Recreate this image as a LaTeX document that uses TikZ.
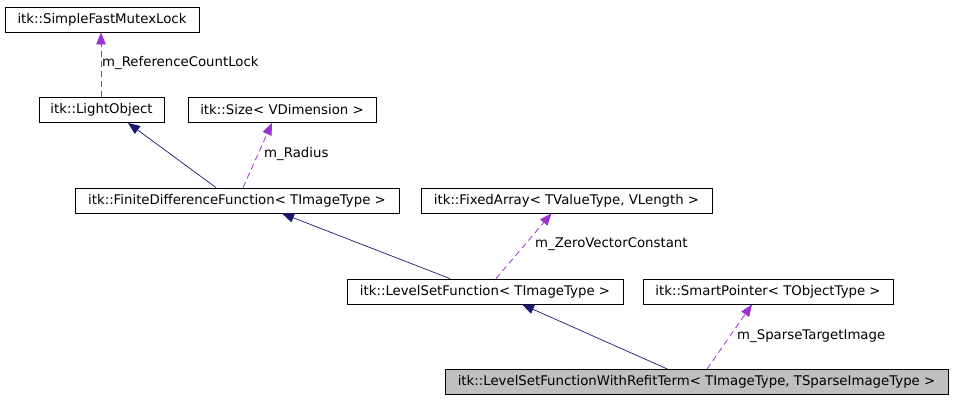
\documentclass[tikz,border=0pt]{standalone}
\usepackage{fontspec}
\setmainfont{DejaVu Sans}
\usetikzlibrary{arrows.meta}

\definecolor{inhcol}{RGB}{25,25,112}
\definecolor{usecol}{RGB}{154,50,205}
\definecolor{focuscol}{RGB}{191,191,191}

\begin{document}
\begin{tikzpicture}[
  x=1pt, y=-1pt,
  cls/.style={rectangle, draw, line width=0.8pt, minimum height=25pt, inner sep=0pt, font=\fontsize{13.3}{15}\selectfont},
  inh/.style={-{Triangle[length=12pt,width=9.5pt]}, color=inhcol, line width=0.7pt},
  use/.style={-{Triangle[length=12pt,width=9.5pt]}, color=usecol, line width=0.8pt, dash pattern=on 6pt off 4pt},
  lbl/.style={anchor=west, inner sep=0pt, font=\fontsize{13.3}{15}\selectfont}
]
\fill[white] (0,0) rectangle (957,400);
\useasboundingbox (0,0) rectangle (957,400);

% classes
\node[cls, minimum width=194pt] (mutex) at (102,19.5) {itk::SimpleFastMutexLock};
\node[cls, minimum width=125pt] (light) at (101.5,110) {itk::LightObject};
\node[cls, minimum width=188pt] (size)  at (282,110) {itk::Size< VDimension >};
\node[cls, minimum width=324pt] (fdf)   at (237,200.5) {itk::FiniteDifferenceFunction< TImageType >};
\node[cls, minimum width=291pt] (fixed) at (566.5,200.5) {itk::FixedArray< TValueType, VLength >};
\node[cls, minimum width=276pt] (lsf)   at (485,291.5) {itk::LevelSetFunction< TImageType >};
\node[cls, minimum width=250pt] (smart) at (768,291.5) {itk::SmartPointer< TObjectType >};
\node[cls, minimum width=503pt, fill=focuscol] (refit) at (696.5,382)
  {itk::LevelSetFunctionWithRefitTerm< TImageType, TSparseImageType >};

% inheritance
\draw[inh] ([xshift=-21pt]fdf.north) -- ([xshift=26.5pt]light.south);
\draw[inh] ([xshift=-35pt]lsf.north) -- ([xshift=45pt]fdf.south);
\draw[inh] ([xshift=-29pt]refit.north) -- ([xshift=37pt]lsf.south);

% members
\draw[use] ([xshift=-0.5pt]light.north) -- ([xshift=-1pt]mutex.south);
\node[lbl] (lockname) at (102,63) {m\_ReferenceCountLock};
\draw[use] ([xshift=6pt]fdf.north) -- ([xshift=-10pt]size.south);
\node[lbl] (radname) at (264,154) {m\_Radius};
\draw[use] ([xshift=11pt]lsf.north) -- ([xshift=-15pt]fixed.south);
\node[lbl] (zeroname) at (535,244) {m\_ZeroVectorConstant};
\draw[use] ([xshift=10.5pt]refit.north) -- ([xshift=-16pt]smart.south);
\node[lbl] (sparsename) at (737,336) {m\_SparseTargetImage};
\end{tikzpicture}
\end{document}
